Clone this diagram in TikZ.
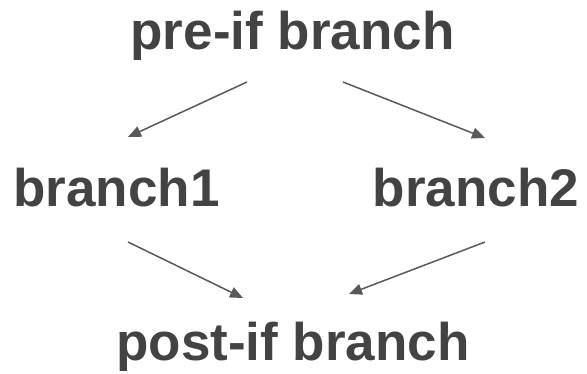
\documentclass[tikz,border=0pt]{standalone}
\usepackage{fontspec}
\setmainfont{Liberation Sans}
\usetikzlibrary{arrows.meta,calc}
\definecolor{txt}{HTML}{434343}
\definecolor{arr}{HTML}{595959}
\tikzset{
  lbl/.style={inner sep=0pt, outer sep=0pt, anchor=base, text=txt,
    font=\fontsize{53}{60}\selectfont\bfseries},
  conn/.style={draw=arr, line width=1.5pt,
    -{Triangle[length=13pt,width=11pt]}, fill=arr}
}
\begin{document}
\begin{tikzpicture}[x=1pt,y=1pt]
\useasboundingbox (0,0) rectangle (587,374);
\node[lbl] (pre) at (292.5,324) {pre-if branch};
\node[lbl] (b1) at (116.5,167) {branch1};
\node[lbl] (b2) at (476,167) {branch2};
\node[lbl] (post) at (293,13) {post-if branch};
\draw[conn] ($(pre.base)+(-45.5,-32)$) -- ($(b1.base)+(11.5,70)$);
\draw[conn] ($(pre.base)+(50.5,-32)$) -- ($(b2.base)+(9,69)$);
\draw[conn] ($(b1.base)+(11.5,-35)$) -- ($(post.base)+(-50,63)$);
\draw[conn] ($(b2.base)+(9,-35)$) -- ($(post.base)+(56,67)$);
\end{tikzpicture}
\end{document}
